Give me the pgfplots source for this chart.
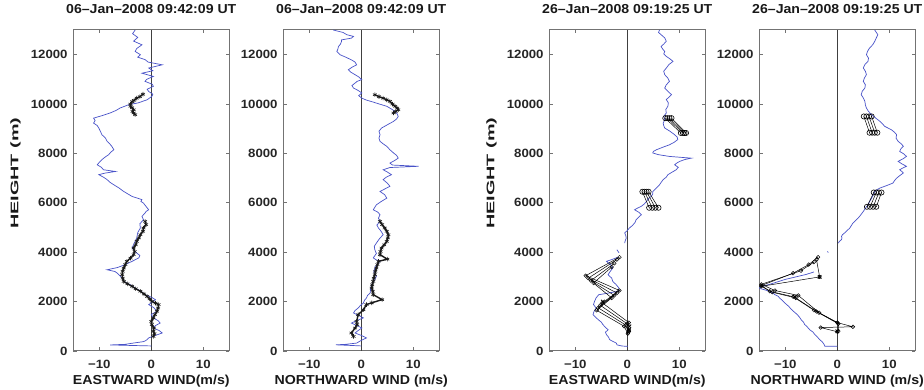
\documentclass[border=0pt]{standalone}
\usepackage{fontspec}
\setmainfont{Liberation Sans}
\usepackage{graphicx}
\usepackage{pgfplots}
\pgfplotsset{compat=1.18}
\definecolor{windblue}{RGB}{72,82,200}
\definecolor{framegray}{RGB}{115,115,115}
\pgfplotsset{
  panel/.style={
    scale only axis, width=156pt, height=321pt,
    xmin=-15, xmax=15, ymin=0, ymax=13000,
    xtick={-10,0,10}, xticklabels={−10,0,10},
    ytick={0,2000,4000,6000,8000,10000,12000},
    yticklabels={0,2000,4000,6000,8000,10000,12000},
    scaled y ticks=false,
    tick align=inside, xtick pos=both, ytick pos=both,
    xticklabel pos=lower, yticklabel pos=left,
    major tick length=3.5pt,
    axis line style={draw=framegray, line width=1pt},
    every tick/.style={framegray, line width=0.7pt},
    tick label style={font=\fontsize{12}{13}\selectfont\bfseries, text=black!85, inner sep=0pt, xscale=1.1},
    xticklabel style={anchor=base, yshift=-18pt},
    yticklabel style={anchor=east, xshift=-5pt},
    title style={at={(0.5,1)}, anchor=base, yshift=10.7pt, inner sep=0pt,
      font=\fontsize{13}{14}\selectfont\bfseries, text=black!90},
    xlabel style={at={(axis description cs:0.5,0)}, anchor=base, yshift=-33.3pt, inner sep=0pt,
      font=\fontsize{13}{14}\selectfont\bfseries, text=black!90},
    ylabel style={at={(axis description cs:-0.37,0.554)}, anchor=center, inner sep=0pt,
      font=\fontsize{11}{12}\selectfont\bfseries, text=black!90},
  },
  blueline/.style={windblue, line width=0.7pt, mark=none},
  zeroline/.style={black!75, line width=0.8pt, mark=none},
  xblack/.style={black!90, line width=1.4pt, mark=asterisk, mark size=2.2pt, mark options={solid, line width=0.6pt}},
  oblack/.style={black, line width=0.5pt, mark=o, mark size=2.6pt, mark options={solid, line width=0.6pt}},
  sblack/.style={black, line width=0.5pt, mark=o, mark size=1.8pt, mark options={solid, line width=0.5pt}},
}
\newcommand{\ttl}[1]{\scalebox{1.085}[1]{#1}}
\newcommand{\xlab}[1]{\scalebox{1.09}[1]{#1}}
\newcommand{\ylab}[1]{\scalebox{1.8}[1]{#1}}
\begin{document}
\begin{tikzpicture}
\useasboundingbox (0,0) rectangle (924pt,390pt);

% ---------------- Panel 1: Eastward, 06 Jan ----------------
\begin{axis}[panel, at={(73.3pt,39pt)}, anchor=south west,
  title={\ttl{06–Jan–2008 09:42:09 UT}}, xlabel={\xlab{EASTWARD WIND(m/s)}}, ylabel={\ylab{HEIGHT (m)}}]
\addplot[zeroline] coordinates {(0,0) (0,13000)};
\addplot[blueline] table {
-3.1 13000
-3.6 12850
-2.6 12700
-3.4 12550
-1.8 12400
-2.8 12250
-3.1 12130
-2.1 12000
-2.6 11900
-1.2 11800
-0.6 11700
2.1 11590
-0.5 11460
0.3 11350
-1.8 11250
0.4 11120
-0.9 11000
-1.2 10920
0.2 10800
0.4 10720
-0.8 10600
-0.5 10510
0.3 10400
0.1 10310
-0.8 10175
-2.5 10050
-4.4 9970
-6.0 9840
-6.8 9740
-7.9 9640
-9.5 9530
-11.1 9430
-10.8 9330
-11.1 9230
-10.4 9130
-10.1 9030
-9.8 8900
-9.5 8760
-8.8 8620
-8.5 8490
-8.0 8390
-7.6 8290
-7.2 8150
-7.8 8050
-8.2 7950
-8.9 7850
-9.5 7750
-10.0 7640
-10.4 7540
-9.6 7440
-9.2 7340
-6.9 7270
-9.0 7200
-10.1 7140
-9.2 7040
-8.5 6940
-8.0 6840
-7.2 6730
-6.2 6600
-5.3 6460
-4.5 6360
-3.7 6260
-1.8 6130
-2.0 6060
-1.5 5990
-1.0 5850
-0.5 5720
-1.0 5650
-1.2 5590
-1.8 5450
-1.5 5320
-2.2 5150
-2.1 4980
-2.6 4800
-2.8 4580
-3.2 4400
-3.7 4170
-3.0 4000
-2.2 3870
-2.4 3770
-3.8 3620
-5.0 3500
-6.5 3380
-8.5 3290
-7.0 3220
-6.6 3160
-5.8 3000
-5.3 2820
-4.0 2680
-3.1 2550
-2.0 2420
-1.2 2280
0.0 2180
0.8 2080
0.2 1980
-0.5 1880
0.5 1750
1.1 1610
0.0 1480
0.4 1340
1.3 1230
1.7 1130
0.8 1030
0.4 930
1.5 830
2.1 730
0.8 630
-0.5 530
-1.0 430
-1.5 380
-3.5 320
-5.0 270
-7.9 245
-4.0 225
0.0 205
};
\addplot[xblack] table {
-1.6 10400
-2.2 10300
-2.8 10240
-3.3 10150
-3.7 10100
-4.0 10000
-4.0 9910
-3.7 9850
-3.4 9770
-3.6 9700
-3.4 9640
-3.1 9570
};
\addplot[xblack] table {
-1.2 5250
-1.0 5120
-1.5 4980
-1.6 4850
-2.1 4710
-2.4 4580
-2.8 4440
-3.0 4300
-3.4 4170
-3.2 4030
-3.4 3900
-4.0 3760
-4.7 3630
-5.0 3500
-5.3 3360
-5.5 3230
-5.6 3090
-5.5 2950
-5.3 2820
-4.6 2720
-3.7 2620
-3.0 2520
-2.1 2420
-1.4 2310
-0.8 2210
-0.3 2110
0.1 2010
0.8 1940
1.4 1880
1.3 1740
1.1 1610
0.7 1470
0.4 1340
0.0 1200
0.1 1070
0.5 930
0.4 800
0.6 700
0.4 590
};
\end{axis}

% ---------------- Panel 2: Northward, 06 Jan ----------------
\begin{axis}[panel, at={(283.3pt,39pt)}, anchor=south west,
  title={\ttl{06–Jan–2008 09:42:09 UT}}, xlabel={\xlab{NORTHWARD WIND (m/s)}}]
\addplot[zeroline] coordinates {(0,0) (0,13000)};
\addplot[blueline] table {
-5.4 13000
-3.5 12900
-2.8 12810
-1.5 12740
-1.9 12670
-3.8 12600
-3.8 12540
-4.0 12430
-4.4 12330
-4.5 12230
-4.7 12130
-4.1 12000
-3.0 11900
-1.9 11790
-1.2 11700
-0.9 11590
-1.8 11490
-2.5 11390
-2.0 11290
-1.2 11190
-0.5 11100
0.1 10990
-0.8 10920
-1.2 10850
-1.8 10750
-1.5 10650
-0.6 10550
0.1 10450
-0.5 10340
0.1 10240
1.0 10160
2.3 10080
3.5 10000
4.9 9910
5.8 9800
6.5 9700
6.9 9600
7.1 9500
6.8 9400
6.2 9300
5.0 9160
3.9 9030
3.4 8900
3.6 8760
3.4 8620
3.6 8490
4.2 8390
4.9 8290
5.5 8150
6.2 8020
6.8 7920
7.1 7810
6.3 7700
5.5 7610
6.0 7530
11.0 7480
5.5 7430
4.2 7340
5.0 7250
5.8 7140
4.8 7040
4.2 6940
5.0 6800
5.5 6670
4.5 6560
3.6 6460
4.5 6330
4.9 6190
3.8 6050
2.9 5920
2.6 5820
2.3 5720
3.2 5620
3.6 5520
3.3 5380
3.6 5250
3.0 5100
3.3 4980
3.8 4850
4.2 4710
3.5 4550
2.9 4370
2.5 4240
2.6 4100
2.9 3950
2.3 3770
2.8 3700
3.6 3630
3.0 3500
2.6 3360
2.4 3200
2.9 3020
2.5 2850
2.0 2690
1.8 2520
1.7 2350
1.2 2250
1.0 2150
0.6 2050
0.4 1940
-0.2 1840
-0.6 1740
-1.2 1640
-1.5 1540
-0.5 1440
0.4 1340
-0.8 1240
-1.9 1130
-0.8 1030
0.1 930
-0.6 830
-1.2 730
0.0 630
1.0 530
0.0 430
-0.9 320
-3.0 270
-4.9 250
-2.0 225
0.0 205
};
\addplot[xblack] table {
2.6 10380
3.4 10300
4.2 10240
4.9 10170
5.5 10110
6.0 10000
6.5 9910
6.9 9840
7.1 9770
6.6 9700
6.2 9640
};
\addplot[xblack] table {
3.6 5250
4.0 5120
4.5 4980
4.9 4850
5.2 4710
5.1 4580
4.9 4440
4.4 4300
3.9 4170
3.7 4030
3.6 3900
5.0 3720
3.3 3630
3.1 3500
2.9 3360
2.7 3230
2.6 3090
2.4 2950
2.3 2820
2.1 2680
2.0 2550
2.2 2420
2.3 2280
4.0 2080
2.0 1950
1.0 1880
0.4 1670
-0.6 1470
-0.9 1200
-0.8 1070
-1.2 930
-1.9 730
-1.5 590
};
\end{axis}

% ---------------- Panel 3: Eastward, 26 Jan ----------------
\begin{axis}[panel, at={(549.3pt,39pt)}, anchor=south west,
  title={\ttl{26–Jan–2008 09:19:25 UT}}, xlabel={\xlab{EASTWARD WIND(m/s)}}, ylabel={\ylab{HEIGHT (m)}}]
\addplot[zeroline] coordinates {(0,0) (0,13000)};
\addplot[blueline] table {
6.2 13000
6.0 12900
6.5 12810
7.2 12680
7.5 12540
7.0 12430
6.5 12330
6.8 12230
7.2 12130
7.0 12030
7.5 11930
8.2 11830
8.8 11730
8.0 11600
7.5 11460
7.0 11330
7.2 11190
7.8 11050
8.1 10920
7.5 10780
7.2 10650
7.8 10520
8.5 10380
8.0 10280
7.5 10180
7.9 10050
7.8 9910
7.4 9780
7.5 9640
7.0 9500
7.2 9370
6.9 9230
7.0 9130
7.2 9030
8.2 8900
9.1 8760
9.6 8660
9.7 8560
9.0 8450
8.1 8350
6.8 8250
5.6 8150
5.0 8080
4.9 8020
6.0 7950
8.1 7880
10.5 7840
12.3 7810
11.0 7750
10.1 7680
9.5 7610
9.1 7540
9.8 7440
9.4 7340
8.6 7240
7.8 7140
7.5 7040
6.9 6940
6.5 6830
6.2 6730
5.6 6600
4.9 6460
4.9 6360
4.6 6260
4.0 6160
3.7 6060
3.3 5960
2.7 5860
2.0 5790
1.4 5720
2.2 5620
2.7 5520
2.2 5420
1.7 5320
1.5 5210
1.1 5110
0.8 5050
0.4 4980
0.0 4880
-0.5 4780
-0.3 4680
-0.2 4570
-0.4 4470
-0.5 4370
};
\addplot[blueline] coordinates {(-2.0,4100) (-1.6,3980)};
\addplot[blueline] table {
-1.8 3800
-3.0 3700
-4.0 3630
-3.2 3500
-2.8 3360
-3.3 3220
-3.7 3090
-3.0 2950
-2.8 2820
-2.2 2700
-1.6 2550
-1.8 2420
-3.5 2350
-5.5 2280
-6.0 2150
-6.3 2010
-6.5 1880
-6.0 1740
-6.4 1600
-6.6 1470
-6.1 1370
-5.6 1270
-5.0 1170
-4.7 1070
-4.2 960
-3.7 860
-4.2 760
-4.0 660
-3.6 560
-3.4 460
-2.8 390
-2.1 320
-2.0 250
-1.0 200
0.1 190
};
% upper group
\addplot[oblack] coordinates {(7.3,9430) (10.3,8830)};
\addplot[oblack] coordinates {(7.7,9430) (10.7,8830)};
\addplot[oblack] coordinates {(8.1,9430) (11.0,8830)};
\addplot[oblack] coordinates {(8.5,9430) (11.3,8830)};
% middle group
\addplot[oblack] coordinates {(2.9,6450) (4.2,5800)};
\addplot[oblack] coordinates {(3.3,6450) (4.8,5800)};
\addplot[oblack] coordinates {(3.7,6450) (5.4,5800)};
\addplot[oblack] coordinates {(4.1,6450) (6.0,5800)};
% lower group
\addplot[sblack] coordinates {(-1.5,3800) (-8.0,3050) (-1.5,2450) (-4.8,1950) (0.3,1150) (0.3,850)};
\addplot[sblack] coordinates {(-2.0,3700) (-7.5,2950) (-2.0,2350) (-5.2,1850) (0.0,1100) (0.3,800)};
\addplot[sblack] coordinates {(-2.5,3550) (-7.0,2850) (-2.5,2250) (-5.6,1750) (-0.3,1050) (0.2,750)};
\addplot[sblack] coordinates {(-3.0,3400) (-6.5,2750) (-3.0,2150) (-5.9,1650) (-0.6,1000) (0.1,700)};
\addplot[black, only marks, mark=x, mark size=2.5pt, line width=0.8pt] coordinates {(-4.7,2000) (0.4,1000) (0.3,850)};
\end{axis}

% ---------------- Panel 4: Northward, 26 Jan ----------------
\begin{axis}[panel, at={(759.3pt,39pt)}, anchor=south west,
  title={\ttl{26–Jan–2008 09:19:25 UT}}, xlabel={\xlab{NORTHWARD WIND (m/s)}}]
\addplot[zeroline] coordinates {(0,0) (0,13000)};
\addplot[blueline] table {
7.2 13000
7.5 12900
7.8 12810
7.5 12680
7.2 12540
6.8 12400
6.2 12270
5.8 12130
5.6 12000
6.0 11860
5.9 11730
5.3 11600
5.0 11460
5.4 11330
5.6 11190
5.2 11050
5.0 10920
5.4 10780
5.3 10650
4.8 10520
4.6 10380
5.0 10250
5.3 10110
5.4 9970
5.6 9840
6.0 9700
6.6 9570
7.4 9430
8.2 9300
8.7 9200
9.1 9100
10.4 8960
11.0 8860
11.4 8760
11.3 8620
11.7 8490
12.3 8390
12.7 8290
12.2 8180
12.0 8080
12.8 7980
13.3 7880
12.6 7780
11.7 7680
12.4 7580
13.3 7480
12.5 7400
12.0 7340
12.4 7270
12.7 7210
12.0 7100
11.4 7000
11.0 6900
10.7 6800
9.5 6700
8.2 6600
7.6 6530
7.2 6460
6.9 6330
6.6 6190
6.2 6050
5.9 5920
5.4 5780
5.0 5650
4.5 5510
4.0 5380
3.5 5280
3.0 5180
2.7 5080
2.4 4980
1.9 4880
1.4 4780
1.0 4710
0.8 4640
0.9 4580
0.8 4510
0.4 4440
0.2 4370
};
\addplot[blueline] coordinates {(-1.9,4030) (-1.7,3990)};
\addplot[blueline] table {
-4.5 3200
-6.0 3100
-8.0 3000
-10.0 2900
-11.5 2800
-13.0 2700
-14.5 2620
-15.2 2550
-14.0 2480
-13.0 2420
-12.4 2350
-12.0 2280
-11.4 2220
-11.1 2150
-10.6 2050
-10.1 1950
-9.8 1890
-9.3 1800
-9.0 1720
-8.5 1620
-8.0 1530
-7.6 1450
-7.2 1350
-6.9 1250
-6.5 1170
-6.3 1080
-5.8 980
-5.3 860
-4.7 770
-4.3 660
-3.8 560
-3.4 460
-3.0 390
-2.7 320
-2.5 250
-2.4 190
0.0 190
};
% upper group
\addplot[oblack] coordinates {(5.1,9500) (6.2,8840)};
\addplot[oblack] coordinates {(5.6,9500) (6.7,8840)};
\addplot[oblack] coordinates {(6.1,9500) (7.2,8840)};
\addplot[oblack] coordinates {(6.6,9500) (7.7,8840)};
% middle group
\addplot[oblack] coordinates {(7.0,6420) (5.7,5840)};
\addplot[oblack] coordinates {(7.5,6420) (6.3,5840)};
\addplot[oblack] coordinates {(8.0,6420) (6.9,5840)};
\addplot[oblack] coordinates {(8.5,6420) (7.5,5840)};
% lower group
\addplot[sblack] coordinates {(-3.7,3800) (-5.5,3500) (-8.5,3150) (-14.6,2650) (-13,2420) (-8.5,2200) (-4.5,1650) (0,1150) (3,980) (-3.2,950) (0,780)};
\addplot[sblack] coordinates {(-4.0,3700) (-3.4,3000) (-14.6,2620) (-12.5,2380) (-8,2150) (-4,1600) (0.2,1100) (0.2,800)};
\addplot[sblack] coordinates {(-4.5,3600) (-7,3250) (-14.6,2700) (-12,2450) (-7.5,2250) (-3.5,1550) (0,1150)};
\addplot[black, only marks, mark=x, mark size=2.5pt, line width=0.8pt] coordinates {(-3.4,3000) (-8.2,2200) (0,800)};
\end{axis}
\end{tikzpicture}
\end{document}
